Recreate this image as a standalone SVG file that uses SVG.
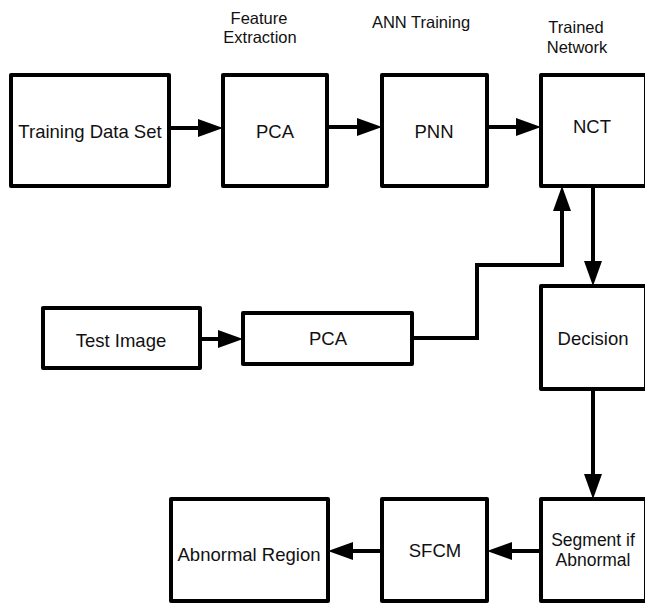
<svg xmlns="http://www.w3.org/2000/svg" width="645" height="604" viewBox="0 0 645 604">
  <style>
    .box { fill: #ffffff; stroke: #000000; stroke-width: 4; stroke-linejoin: round; }
    .wire { fill: none; stroke: #000000; stroke-width: 4; stroke-linejoin: miter; marker-end: url(#head); }
    .lbl { font-family: "Liberation Sans", Arial, sans-serif; font-size: 18.5px; fill: #111111; text-anchor: middle; }
    .lbl2 { font-family: "Liberation Sans", Arial, sans-serif; font-size: 17.5px; fill: #111111; text-anchor: middle; }
    .cap { font-family: "Liberation Sans", Arial, sans-serif; font-size: 16.5px; fill: #111111; text-anchor: middle; }
  </style>
  <defs>
    <marker id="head" markerUnits="userSpaceOnUse" markerWidth="26" markerHeight="18" refX="0" refY="9" orient="auto">
      <path d="M0,0 L25,9 L0,18 Z" fill="#000000"/>
    </marker>
  </defs>
  <rect width="645" height="604" fill="#ffffff"/>

  <!-- stage captions -->
  <g id="captions">
    <text class="cap" x="259" y="24">Feature</text>
    <text class="cap" x="260" y="43">Extraction</text>
    <text class="cap" x="421" y="28">ANN Training</text>
    <text class="cap" x="576" y="33">Trained</text>
    <text class="cap" x="577" y="53">Network</text>
  </g>

  <g id="connectors">
    <path class="wire" d="M169,128 H198"/>
    <path class="wire" d="M327,127 H357"/>
    <path class="wire" d="M487,127 H516"/>
    <path class="wire" d="M593,186 V261"/>
    <path class="wire" d="M593,389 V474"/>
    <path class="wire" d="M541,551 H512"/>
    <path class="wire" d="M382,551 H353"/>
    <path class="wire" d="M200,339 H218"/>
    <path class="wire" d="M412,338 H477 V265 H562 V211"/>
  </g>

  <g id="training-data">
    <rect class="box" x="11" y="75" width="158" height="111"/>
    <text class="lbl" x="90" y="138">Training Data Set</text>
  </g>
  <g id="pca-train">
    <rect class="box" x="223" y="75" width="104" height="111"/>
    <text class="lbl" x="275" y="138">PCA</text>
  </g>
  <g id="pnn">
    <rect class="box" x="382" y="75" width="105" height="111"/>
    <text class="lbl" x="434" y="138">PNN</text>
  </g>
  <g id="nct">
    <rect class="box" x="541" y="75" width="105" height="111"/>
    <text class="lbl" x="592" y="133">NCT</text>
  </g>
  <g id="test-image">
    <rect class="box" x="43" y="308" width="157" height="60"/>
    <text class="lbl" x="121" y="347">Test Image</text>
  </g>
  <g id="pca-test">
    <rect class="box" x="243" y="313" width="169" height="51"/>
    <text class="lbl" x="328" y="345">PCA</text>
  </g>
  <g id="decision">
    <rect class="box" x="541" y="286" width="105" height="103"/>
    <text class="lbl" x="593" y="345">Decision</text>
  </g>
  <g id="segment">
    <rect class="box" x="541" y="499" width="105" height="102"/>
    <text class="lbl2" x="593" y="546">Segment if</text>
    <text class="lbl2" x="593" y="566">Abnormal</text>
  </g>
  <g id="sfcm">
    <rect class="box" x="382" y="499" width="105" height="102"/>
    <text class="lbl" x="435" y="557">SFCM</text>
  </g>
  <g id="abnormal-region">
    <rect class="box" x="171" y="499" width="157" height="102"/>
    <text class="lbl" x="249" y="561">Abnormal Region</text>
  </g>
</svg>
